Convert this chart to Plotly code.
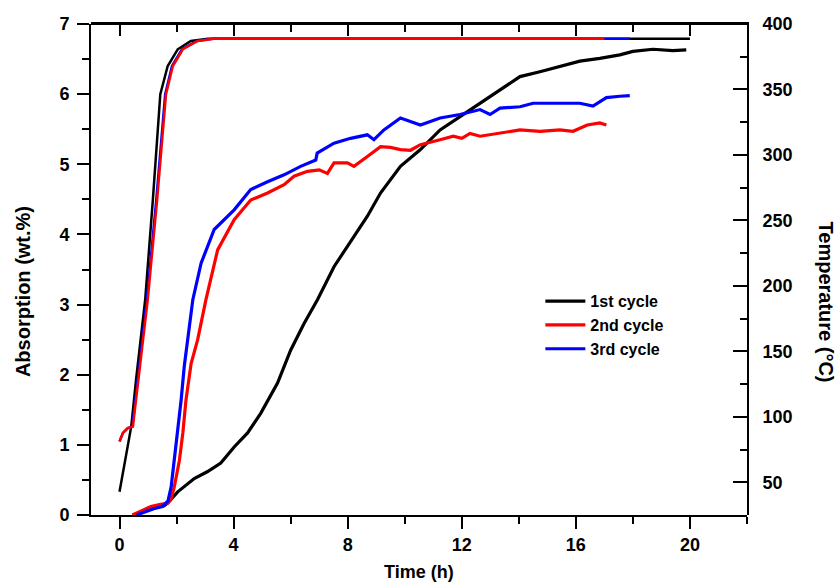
import plotly.graph_objects as go

# ---------------- data ----------------
# Absorption (wt.%) vs time (h)
abs1_t = [0.5, 0.8, 1.0, 1.3, 1.55, 1.69, 2.04, 2.62, 3.09, 3.55, 4.02, 4.49, 4.95, 5.54, 6.0, 6.47, 6.94,
          7.52, 7.99, 8.69, 9.15, 9.85, 10.55, 11.24, 11.94, 12.64, 13.34, 14.04, 14.74, 15.44, 16.14,
          16.84, 17.54, 18.0, 18.7, 19.4, 19.87]
abs1_v = [0.0, 0.05, 0.1, 0.12, 0.13, 0.17, 0.33, 0.52, 0.62, 0.74, 0.97, 1.17, 1.45, 1.88, 2.35, 2.73, 3.07,
          3.54, 3.83, 4.26, 4.59, 4.97, 5.21, 5.49, 5.68, 5.87, 6.06, 6.25, 6.32, 6.40, 6.47,
          6.51, 6.56, 6.61, 6.64, 6.62, 6.63]

abs2_t = [0.45, 0.8, 1.1, 1.4, 1.7, 1.8, 1.92, 2.1, 2.22, 2.33, 2.51, 2.74, 3.03, 3.44, 4.02, 4.6, 5.19,
          5.77, 6.12, 6.59, 7.0, 7.29, 7.52, 7.99, 8.22, 8.69, 9.15, 9.5, 9.85, 10.2, 10.55, 11.24, 11.7,
          12.0, 12.29, 12.64, 13.34, 14.04, 14.74, 15.44, 15.9, 16.4, 16.84, 17.07]
abs2_v = [0.0, 0.07, 0.12, 0.15, 0.17, 0.22, 0.40, 0.78, 1.17, 1.64, 2.16, 2.50, 3.07, 3.78, 4.21, 4.49, 4.59,
          4.71, 4.83, 4.90, 4.92, 4.87, 5.02, 5.02, 4.97, 5.11, 5.25, 5.24, 5.21, 5.20, 5.28, 5.35, 5.40,
          5.37, 5.44, 5.40, 5.44, 5.49, 5.47, 5.49, 5.47, 5.56, 5.59, 5.56]

abs3_t = [0.6, 0.9, 1.2, 1.5, 1.7, 1.81, 1.92, 2.04, 2.16, 2.27, 2.45, 2.57, 2.86, 3.32, 4.02, 4.6, 5.19,
          5.77, 6.35, 6.88, 6.93, 7.52, 8.1, 8.69, 8.92, 9.27, 9.85, 10.3, 10.55, 11.24, 11.94, 12.64,
          12.99, 13.34, 14.04, 14.5, 15.2, 16.14, 16.6, 17.07, 17.54, 17.89]
abs3_v = [0.0, 0.05, 0.09, 0.12, 0.2, 0.4, 0.78, 1.17, 1.64, 2.12, 2.69, 3.07, 3.59, 4.07, 4.35, 4.64, 4.75,
          4.85, 4.97, 5.06, 5.16, 5.30, 5.37, 5.42, 5.35, 5.49, 5.66, 5.59, 5.56, 5.66, 5.71, 5.78,
          5.71, 5.80, 5.82, 5.87, 5.87, 5.87, 5.83, 5.95, 5.97, 5.98]

# Temperature (°C) vs time (h)
temp1_t = [0.0, 0.41, 0.58, 0.9, 1.17, 1.43, 1.69, 2.04, 2.5, 3.1, 20.0]
temp1_v = [42.7, 92.5, 128.4, 189.5, 266.1, 346.4, 367.9, 380.7, 387.1, 388.7, 388.7]

temp2_t = [0.0, 0.12, 0.29, 0.47, 0.99, 1.32, 1.63, 1.87, 2.22, 2.74, 3.3, 17.0]
temp2_v = [81.2, 87.7, 91.4, 92.5, 189.5, 266.1, 346.4, 367.9, 380.7, 387.1, 388.7, 388.7]

temp3_t = [0.0, 0.12, 0.29, 0.45, 0.96, 1.29, 1.6, 1.84, 2.19, 2.71, 3.27, 17.9]
temp3_v = [81.2, 87.7, 91.4, 92.5, 189.5, 266.1, 346.4, 367.9, 380.7, 387.1, 388.7, 388.7]

series_names = ["1st cycle", "2nd cycle", "3rd cycle"]
colors = ["#000000", "#ff0000", "#0000ff"]

x_ticks = [0, 4, 8, 12, 16, 20]
y_ticks = [0, 1, 2, 3, 4, 5, 6, 7]
y2_ticks = [50, 100, 150, 200, 250, 300, 350, 400]

FONT = "Liberation Sans, Arial, sans-serif"

fig = go.Figure()

# absorption curves (left axis, bottom time axis)
for t, v, c, n in [(abs1_t, abs1_v, colors[0], series_names[0]),
                   (abs2_t, abs2_v, colors[1], series_names[1]),
                   (abs3_t, abs3_v, colors[2], series_names[2])]:
    fig.add_trace(go.Scatter(x=t, y=v, mode="lines", line=dict(color=c, width=3.2), name=n,
                             xaxis="x", yaxis="y"))

# temperature curves (right axis, top time axis with identical range)
for t, v, c in [(temp1_t, temp1_v, colors[0]), (temp3_t, temp3_v, colors[2]), (temp2_t, temp2_v, colors[1])]:
    fig.add_trace(go.Scatter(x=t, y=v, mode="lines", line=dict(color=c, width=2.5),
                             xaxis="x2", yaxis="y2", showlegend=False, hoverinfo="skip"))

tickfont = dict(family=FONT, size=18, color="black", weight="bold")

fig.update_layout(
    template="none",
    width=838, height=586,
    margin=dict(l=91, r=91, t=24, b=71, autoexpand=False),
    paper_bgcolor="white", plot_bgcolor="rgba(0,0,0,0)",
    showlegend=True,
    legend=dict(x=0.685, y=0.470, xanchor="left", yanchor="top",
                font=dict(family=FONT, size=16, color="black", weight="bold"),
                bgcolor="rgba(0,0,0,0)", borderwidth=0, itemwidth=40, tracegroupgap=0),
    xaxis=dict(domain=[0, 1], anchor="y", range=[-1, 22], tickvals=x_ticks, ticks="outside", ticklen=12,
               tickwidth=2, tickcolor="black", showline=True, linecolor="black", linewidth=2,
               showgrid=False, zeroline=False, tickfont=tickfont,
               minor=dict(dtick=2, tick0=0, ticks="outside", ticklen=7, tickwidth=2, tickcolor="black",
                          showgrid=False)),
    xaxis2=dict(domain=[0, 1], anchor="y2", side="top", range=[-1, 22], tickmode="linear", tick0=0, dtick=4,
                ticks="inside", ticklen=12, tickwidth=2, tickcolor="black", showticklabels=False,
                showline=True, linecolor="black", linewidth=2, showgrid=False, zeroline=False,
                minor=dict(dtick=2, ticks="inside", ticklen=8, tickwidth=2, tickcolor="black",
                           showgrid=False)),
    yaxis=dict(domain=[0, 1], anchor="x", range=[0, 7], tickvals=y_ticks, ticks="outside", ticklen=12,
               tickwidth=2, tickcolor="black", showline=True, linecolor="black", linewidth=2,
               showgrid=False, zeroline=False, tickfont=tickfont, ticklabelstandoff=4,
               minor=dict(dtick=0.5, tick0=0, ticks="outside", ticklen=7, tickwidth=2, tickcolor="black",
                          showgrid=False)),
    yaxis2=dict(domain=[0, 1], anchor="x2", side="right", range=[25, 400], tickvals=y2_ticks,
                ticks="inside", ticklen=14, tickwidth=2, tickcolor="black", showline=True,
                linecolor="black", linewidth=2, showgrid=False, zeroline=False, tickfont=tickfont,
                ticklabelstandoff=10,
                minor=dict(dtick=25, tick0=0, ticks="inside", ticklen=7, tickwidth=2, tickcolor="black",
                           showgrid=False)),
    shapes=[dict(type="line", xref="paper", yref="paper", x0=0, x1=1, y0=1, y1=1,
                 line=dict(color="black", width=2))],
    annotations=[
        dict(text="Time (h)", xref="paper", yref="paper", x=0.5, y=-0.1155, showarrow=False,
             xanchor="center", yanchor="middle",
             font=dict(family=FONT, size=18, color="black", weight="bold")),
        dict(text="Absorption (wt.%)", xref="paper", yref="paper", x=-0.1037, y=0.456, showarrow=False,
             textangle=-90, xanchor="center", yanchor="middle",
             font=dict(family=FONT, size=20, color="black", weight="bold")),
        dict(text="Temperature (°C)", xref="paper", yref="paper", x=1.121, y=0.434, showarrow=False,
             textangle=90, xanchor="center", yanchor="middle",
             font=dict(family=FONT, size=20, color="black", weight="bold")),
    ],
)

fig.write_html("out.html")
